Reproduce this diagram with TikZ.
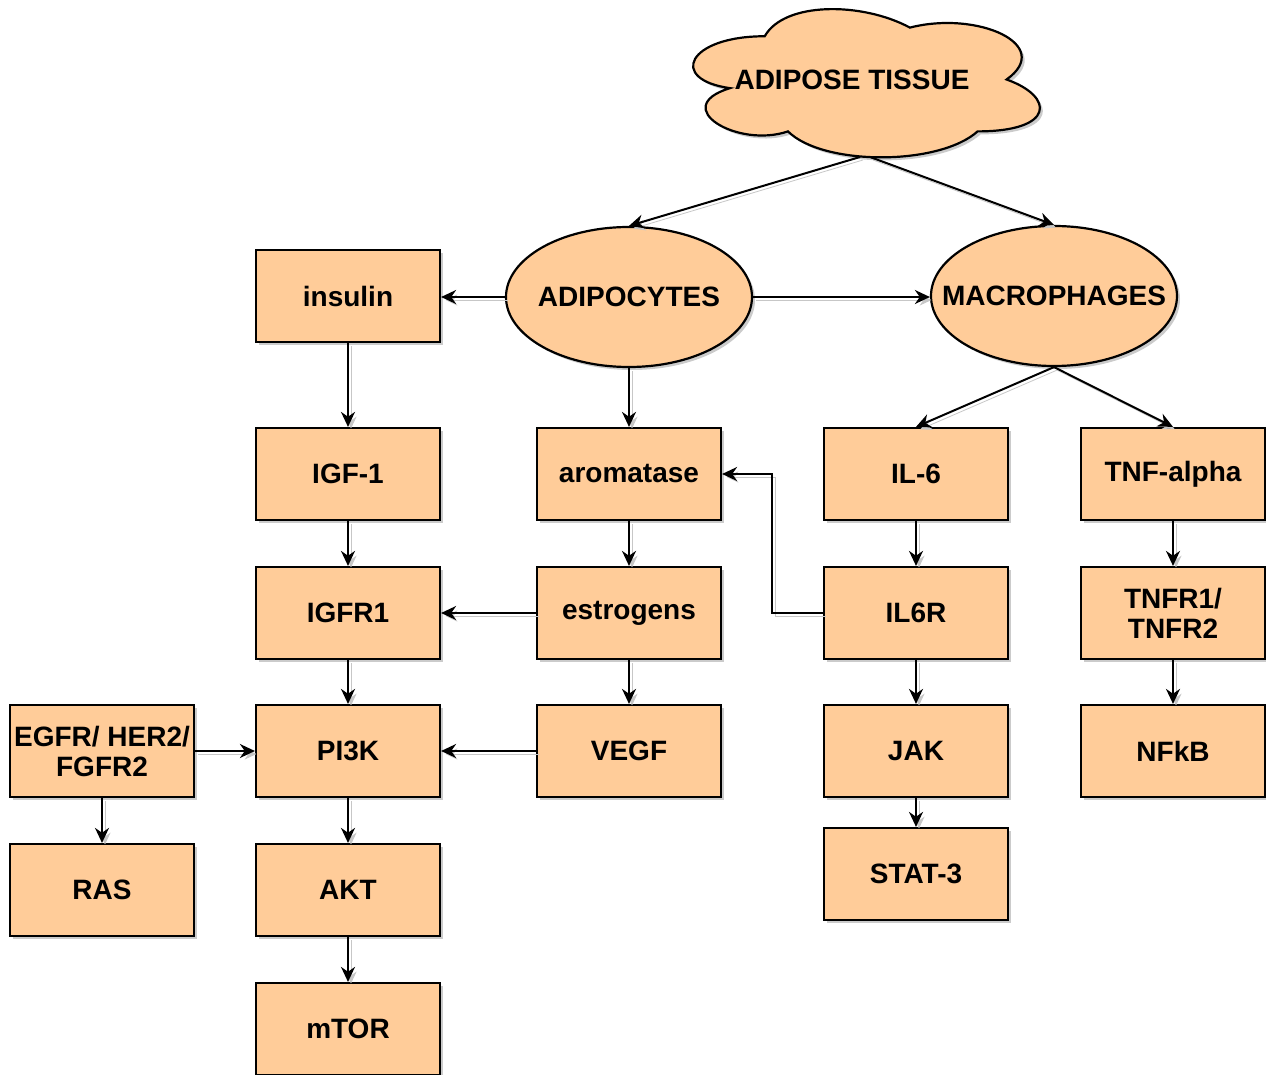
\documentclass[tikz,border=0pt]{standalone}
\usepackage{fontspec}
\setmainfont{Liberation Sans}
\usetikzlibrary{arrows.meta,shapes.geometric,shadows}
\definecolor{peach}{HTML}{FFCC99}
\newcommand\cloudpth{(764.75,36.25) .. controls (687.35,36.25) and (668,79.5) .. (729.92,88.15)
 .. controls (668,107.18) and (737.66,148.7) .. (787.97,131.4)
 .. controls (822.8,166) and (938.9,166) .. (977.6,131.4)
 .. controls (1055,131.4) and (1055,96.8) .. (1006.6,79.5)
 .. controls (1055,44.9) and (977.6,10.3) .. (909.9,27.6)
 .. controls (861.5,1.65) and (784.1,1.65) .. (764.75,36.25) -- cycle}
\begin{document}
\begin{tikzpicture}[x=0.5pt,y=-0.5pt,
 shd/.style={drop shadow={shadow xshift=1.5pt,shadow yshift=-1.5pt,fill=black!45,opacity=0.45}},
 lbl/.style={font=\fontsize{14}{15}\selectfont\bfseries,align=center},
 box/.style={draw=black,line width=1.1pt,fill=peach,minimum width=92pt,minimum height=46pt,inner sep=0pt,lbl,shd},
 ell/.style={ellipse,draw=black,line width=1.1pt,fill=peach,minimum width=123pt,minimum height=70pt,inner sep=0pt,lbl,shd},
 arr/.style={-{Stealth[length=7.5pt,width=7pt]},line width=1pt,
   preaction={draw=black!22,transform canvas={xshift=1.5pt,yshift=-1.5pt}}}]
\clip (0,0) rectangle (1266,1075);
\useasboundingbox (0,0) rectangle (1266,1075);
% cloud
\fill[black!45,opacity=0.45,shift={(3,3)}] \cloudpth;
\filldraw[fill=peach,draw=black,line width=1.1pt] \cloudpth;
\node[lbl] (tissue) at (852,80) {ADIPOSE TISSUE};
\coordinate (c1) at (860,157);
\coordinate (c2) at (870,157);
% ellipses
\node[ell] (adipo) at (629,297) {\makebox[0pt]{ADIPOCYTES}};
\node[ell] (macro) at (1054,296) {\makebox[0pt]{MACROPHAGES}};
% boxes
\node[box] (insulin) at (348,296) {insulin};
\node[box] (igf) at (348,474) {IGF-1};
\node[box] (igfr) at (348,613) {IGFR1};
\node[box] (pi3k) at (348,751) {PI3K};
\node[box] (akt) at (348,890) {AKT};
\node[box] (mtor) at (348,1029) {mTOR};
\node[box] (egfr) at (102,751) {EGFR/ HER2/\\FGFR2};
\node[box] (ras) at (102,890) {RAS};
\node[box] (arom) at (629,474) {aromatase};
\node[box] (estr) at (629,613) {estrogens};
\node[box] (vegf) at (629,751) {VEGF};
\node[box] (il6) at (916,474) {IL-6};
\node[box] (il6r) at (916,613) {IL6R};
\node[box] (jak) at (916,751) {JAK};
\node[box] (stat) at (916,874) {STAT-3};
\node[box] (tnf) at (1173,474) {TNF-alpha};
\node[box] (tnfr) at (1173,613) {TNFR1/\\TNFR2};
\node[box] (nfkb) at (1173,751) {NFkB};
% connectors
\draw[arr] (c1) -- (adipo.north);
\draw[arr] (c2) -- (macro.north);
\draw[arr] (adipo.west) -- (insulin.east|-adipo.west);
\draw[arr] (adipo.east) -- (macro.west|-adipo.east);
\draw[arr] (adipo.south) -- (arom.north);
\draw[arr] (macro.south) -- (il6.north);
\draw[arr] (macro.south) -- (tnf.north);
\draw[arr] (insulin) -- (igf);
\draw[arr] (igf) -- (igfr);
\draw[arr] (igfr) -- (pi3k);
\draw[arr] (pi3k) -- (akt);
\draw[arr] (akt) -- (mtor);
\draw[arr] (arom) -- (estr);
\draw[arr] (estr) -- (vegf);
\draw[arr] (estr) -- (igfr);
\draw[arr] (vegf) -- (pi3k);
\draw[arr] (egfr) -- (pi3k);
\draw[arr] (egfr) -- (ras);
\draw[arr] (il6) -- (il6r);
\draw[arr] (il6r) -- (jak);
\draw[arr] (jak) -- (stat);
\draw[arr] (il6r.west) -- ++(-51,0) |- (arom.east);
\draw[arr] (tnf) -- (tnfr);
\draw[arr] (tnfr) -- (nfkb);
\end{tikzpicture}
\end{document}
